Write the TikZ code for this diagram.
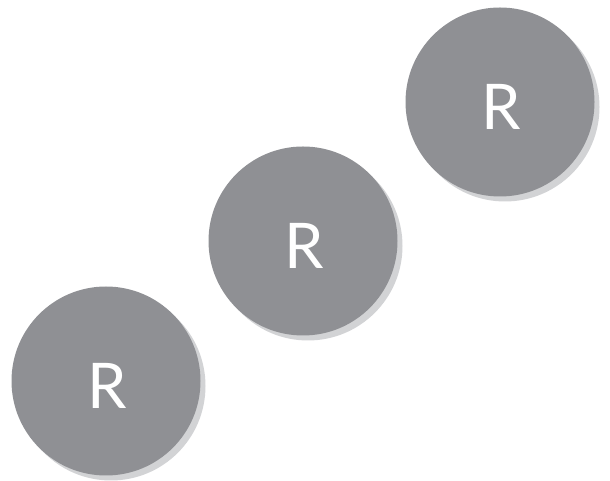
\documentclass[tikz,border=0pt]{standalone}
\usepackage{fontspec}
\setmainfont{Lato}
\usetikzlibrary{shadows}

\definecolor{discgray}{HTML}{8F9094}
\definecolor{shadegray}{HTML}{D2D3D5}

% letter moved a little down and right inside its disc
\newcommand{\discletter}[1]{\raisebox{-5pt}[\height][\depth]{\hspace{3pt}#1}}

\begin{document}
\begin{tikzpicture}[
    x=1pt, y=1pt,
    disc/.style={
        circle,
        fill=discgray,
        text=white,
        inner sep=0pt,
        minimum size=189pt,
        font=\fontsize{63}{63}\selectfont,
        drop shadow={shadow xshift=5pt, shadow yshift=-5pt,
                     fill=shadegray, opacity=1}
    }
]
\useasboundingbox (0,0) rectangle (610,481);

\node[disc] (R1) at (106,100) {\discletter{R}};
\node[disc] (R2) at (303,240) {\discletter{R}};
\node[disc] (R3) at (500,379) {\discletter{R}};

\end{tikzpicture}
\end{document}
